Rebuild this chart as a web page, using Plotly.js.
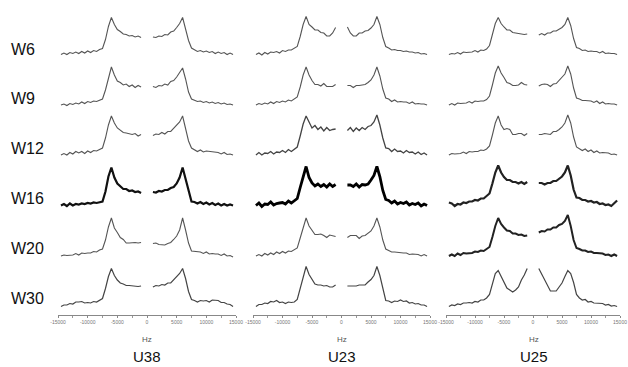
<!DOCTYPE html>
<html>
<head>
<meta charset="utf-8">
<script src="https://cdn.plot.ly/plotly-3.0.1.min.js"></script>
<style>html,body{margin:0;padding:0;background:#fff;}#chart{width:628px;height:367px;}</style>
</head>
<body>
<div id="chart"></div>
<script>
// ---- data ----
const rowLabels = ['W6', 'W9', 'W12', 'W16', 'W20', 'W30'];
const colLabels = ['U38', 'U23', 'U25'];
const axisTitle = 'Hz';
const tickVals = [-15000, -10000, -5000, 0, 5000, 10000, 15000];
const tickText = ['-15000', '-10000', '-5000', '0', '5000', '10000', '15000'];

// frequency grid (Hz); centre point has no signal (gap)
const hz = [-14500,-14000,-13500,-13000,-12500,-12000,-11500,-11000,-10500,-10000,-9500,-9000,-8500,-8000,
            -7500,-7000,-6500,-6000,-5500,-5000,-4500,-4000,-3500,-3000,-2500,-2000,-1500,-1000,
            0,
            1000,1500,2000,2500,3000,3500,4000,4500,5000,5500,6000,6500,7000,7500,
            8000,8500,9000,9500,10000,10500,11000,11500,12000,12500,13000,13500,14000,14500];

// intensities (arbitrary units, above baseline)
const U38_W6  = [0,1.5,0,2,1,2.5,1,3,1.5,3.5,2,4,3,5, 6,15,28,37,30,25,23,20.5,20,18.5,19,17.5,18.5,17, null,
                 17.5,17,18.5,18,20,19.5,22.5,23.5,27,31,37,25,14,6.5, 4.5,3,4,2.5,3.5,2,3,1,2.5,1,2,0,1.5,0];
const U38_W9  = [0,1,-0.5,1.5,0.5,2,1,3,1.5,3.5,2.5,4,3.5,5, 6,15,28,38,30,24,22.5,20,21,18.5,20,17.5,19.5,18, null,
                 18.5,17.5,19.5,19,21,20,23.5,24.5,28,32,37,26,13,6, 5,3.5,4,2.5,3.5,2,3,1.5,2.5,1,2,0.5,1,0];
const U38_W12 = [0,1.5,0,2.5,1,3.5,2,3.5,1.5,4,2.5,4.5,4,5.5, 7,17,30,39,32,27,24.5,22.5,22,21,20.5,21.5,19,20.5, null,
                 19.5,21,20.5,22.5,21,23.5,23.5,26.5,29,33,39,27,14,7, 5.5,3.5,5,3,4,3.5,3,2.5,2.5,1,2.5,0.5,1,0];
const U38_W16 = [0,1.5,-0.5,2,0,1.5,1,2,1.5,2.5,2,3,2.5,3.5, 4,14,29,38,28,22,19.5,16.5,16.5,14.5,15,13.5,14,12.5, null,
                 13.5,13,14.5,14,15.5,15.5,17.5,18.5,22,28,38,27,14,4, 3.5,2,3.5,1.5,3,1,2.5,0.5,2,0,1.5,0,1,0];
const U38_W20 = [0,1,0.5,1,1,2.5,1,3,2.5,3,3,4.5,4,6, 7,16,29,38,28,23.5,18.5,16.5,13,13,13.5,13.5,13,13.5, null,
                 12.5,13,11.5,11.5,11,12.5,13.5,16.5,20,26,38,26,13,5, 4.5,4,4,2.5,4,2,2.5,2,2,0.5,2,0,0.5,-1];
const U38_W30 = [0,1.5,1.5,3,2.5,4.5,4.5,5,3.5,4,3.5,5,4.5,6, 8,18,30,38,31,26.5,23.5,22.5,21,21,20.5,20.5,20,20.5, null,
                 19.5,21,20.5,22,21.5,23.5,23.5,26.5,29,33,38,28,15,7, 6,4.5,6,5.5,6,4.5,6.5,6,6,4,4,2.5,2,0];

const U23_W6  = [0,1.5,-0.5,2,0.5,2.5,2,3,1.5,4,3,4.5,4.5,6.5, 8,18,30,38,30,27.5,24.5,24.5,22,21.5,18.5,18.5,21.5,27, null,
                 27.5,21.5,18.5,18.5,21.5,21.5,23.5,24,26.5,30,38,30,17,8, 6.5,4.5,5,4,4,3,3.5,2.5,2.5,1.5,2,0.5,1,0];
const U23_W9  = [0,1.5,0.5,2,1,3,1.5,3.5,2.5,4,3,5,4,6, 8,18,30,38,30,24.5,20.5,20.5,19,21.5,18.5,18.5,18.5,20.5, null,
                 19.5,19.5,17.5,19.5,19.5,20,20.5,22.5,25,30,38,29,16,7, 6,3.5,5,3,3.5,3,3,1.5,3,1,1.5,1,1,0];
const U23_W12 = [0,2.5,0,2,1.5,3.5,1,3,2.5,4.5,2.5,5.5,3.5,6, 8,19,31,39,33,27,29.5,25.5,28,24,27.5,24.5,25.5,26, null,
                 24.5,27.5,23.5,27,24.5,27.5,25.5,28.5,29.5,33,40,30,17,7, 6.5,3.5,6,3.5,4,2,4.5,2.5,3,1,3,0.5,2,0];
const U23_W16 = [0,2.5,-1,1.5,1,3.5,0.5,2,2.5,3,1.5,4.5,2.5,5, 7,18,30,39,28,22.5,19.5,21.5,19,21,18.5,21.5,19,21, null,
                 20.5,20.5,19,21.5,18.5,21,20.5,21.5,25.5,30,39,29,15,6, 5,2.5,4.5,1.5,3,2,3.5,0.5,2,1,2.5,-0.5,1.5,0];
const U23_W20 = [0,1.5,0,2.5,1,3,1.5,4,2.5,4.5,3,5,4.5,6.5, 8,18,29,38,30,25.5,21.5,21.5,22,20.5,18.5,21,20.5,19.5, null,
                 18.5,20.5,20.5,20.5,17.5,20,20.5,22.5,25,30,38,29,16,7, 5.5,4,4,3.5,3.5,3,3,1.5,2,1.5,1.5,0,1.5,0];
const U23_W30 = [0,2,2,3.5,3,5,4.5,6,4,4.5,3,4.5,4,4.5, 7,18,30,40,32,26.5,22.5,21.5,21.5,20.5,21,19.5,19.5,21.5, null,
                 20.5,20.5,21,20.5,21.5,21.5,21.5,24.5,27,31,40,31,17,6, 5.5,4,5.5,5,6.5,5,5.5,3.5,4,2.5,3,1.5,1.5,0];

const U25_W6  = [0,1,0.5,2,0.5,2.5,2,2.5,2.5,4,2.5,4.5,4,5.5, 9,20,31,37,31,27.5,24.5,24.5,22,21.5,21,20.5,20,20.5, null,
                 19.5,21,19.5,21.5,21.5,23.5,23.5,25.5,27,30,37,29,16,7, 6,4,4.5,3,3.5,3,3,1.5,3,1,1.5,1,1,0];
const U25_W9  = [0,1.5,0,2,1.5,2,2,3.5,2,4,3.5,4,4,5.5, 9,20,32,39,32,27.5,22.5,21.5,19.5,19.5,20,22.5,20.5,20, null,
                 19,20.5,21,20.5,18.5,21,21.5,24.5,27,31,39,31,17,7, 6,4.5,4.5,4,4,2.5,4,1.5,3,1,1.5,1,1,0];
const U25_W12 = [0,1.5,1,1.5,1.5,3,1.5,3.5,3,3.5,3.5,5,4.5,6, 9,20,32,39,30,25.5,26.5,25.5,20.5,20.5,21.5,21.5,19.5,21.5, null,
                 20.5,20.5,21.5,21,20.5,23.5,23.5,25.5,28,32,40,32,18,8, 6.5,4.5,6,3.5,5,2.5,4,2,2.5,2,2,0.5,1,0];
const U25_W16 = [3,2,-0.5,1.5,1,3,2.5,4,4,5.5,5,7,7,9.5, 12,22,33,40,33,28.5,25.5,25.5,23.5,23.5,22,23.5,21.5,23.5, null,
                 22.5,22.5,21,22.5,22.5,24.5,24.5,26.5,29,33,40,30,16,8, 7.5,5.5,5.5,4,4.5,3,3.5,1.5,2,0.5,1,-0.5,2.5,5];
const U25_W20 = [0,1.5,0,2.5,1,3,2.5,3,3,4.5,4,5.5,5,7, 9,19,30,38,32,28.5,25.5,25,22.5,22.5,21,21.5,20,20.5, null,
                 23.5,25,24.5,26.5,26.5,28.5,28.5,31,32,35,41,30,16,8, 7,5.5,5.5,4,4.5,3,3,2.5,2.5,1,1.5,0,1.5,0];
const U25_W30 = [0,1.5,1,2.5,2,3.5,3.5,4,3.5,5,4.5,6.5,6.5,8.5, 12,24,33,36,30,24.5,18.5,16.5,14.5,16.5,19.5,26.5,31.5,38, null,
                 38,32.5,25.5,20.5,15.5,15.5,15.5,19.5,23.5,30,36,33,24,12, 8.5,6.5,7,4.5,5,3.5,3.5,3,3,1.5,2,0.5,1,0];

const spectra = [
  [U38_W6, U38_W9, U38_W12, U38_W16, U38_W20, U38_W30],
  [U23_W6, U23_W9, U23_W12, U23_W16, U23_W20, U23_W30],
  [U25_W6, U25_W9, U25_W12, U25_W16, U25_W20, U25_W30]
];

// ---- layout constants ----
const W = 628, H = 367, PLOT_H = 315;
const rowBase = [54.5, 105, 155, 205.5, 256, 306.5];    // pixel baseline of each row
const colPx = [[58, 236], [253, 430], [446, 620]];       // pixel extent of each x axis
const colCenter = [147, 341.5, 534];
const styles = [
  [['#555',1.1],['#555',1.1],['#555',1.1],['#111',2.2],['#555',1.1],['#444',1.2]],
  [['#555',1.1],['#555',1.1],['#444',1.3],['#000',2.8],['#555',1.1],['#444',1.2]],
  [['#555',1.1],['#555',1.1],['#555',1.1],['#222',2.2],['#222',2.0],['#444',1.2]]
];

const traces = [];
spectra.forEach((col, c) => {
  col.forEach((ys, r) => {
    traces.push({
      type: 'scatter', mode: 'lines',
      x: hz,
      y: ys.map(v => v === null ? null : PLOT_H - rowBase[r] + v),
      xaxis: c === 0 ? 'x' : 'x' + (c + 1), yaxis: 'y',
      line: {color: styles[c][r][0], width: styles[c][r][1], shape: 'linear'},
      connectgaps: false, hoverinfo: 'skip', showlegend: false
    });
  });
});

const layout = {
  width: W, height: H,
  margin: {l: 0, r: 0, t: 0, b: H - PLOT_H, pad: 0},
  paper_bgcolor: '#fff', plot_bgcolor: '#fff',
  showlegend: false,
  yaxis: {range: [0, PLOT_H], visible: false, fixedrange: true},
  annotations: []
};
colPx.forEach((p, c) => {
  const name = c === 0 ? 'xaxis' : 'xaxis' + (c + 1);
  layout[name] = {
    domain: [p[0] / W, p[1] / W],
    range: [-15000, 15000],
    anchor: 'y',
    showline: true, linecolor: '#888', linewidth: 1,
    showgrid: false, zeroline: false,
    tickmode: 'array', tickvals: tickVals, ticktext: tickText,
    ticks: 'outside', ticklen: 2, tickcolor: '#888', tickwidth: 1,
    minor: {dtick: 2500, ticks: 'outside', ticklen: 1.5, tickcolor: '#999', showgrid: false},
    tickfont: {family: 'Liberation Sans, Arial, sans-serif', size: 5, color: '#777'},
    ticklabeloverflow: 'allow',
    automargin: false
  };
  layout.annotations.push({
    xref: 'paper', yref: 'paper', x: colCenter[c] / W, y: 1 - 339.5 / PLOT_H,
    text: axisTitle, showarrow: false, xanchor: 'center', yanchor: 'middle',
    font: {family: 'Liberation Sans, Arial, sans-serif', size: 8, color: '#555'}
  });
  layout.annotations.push({
    xref: 'paper', yref: 'paper', x: colCenter[c] / W, y: 1 - 356.5 / PLOT_H,
    text: colLabels[c], showarrow: false, xanchor: 'center', yanchor: 'middle',
    font: {family: 'Liberation Sans, Arial, sans-serif', size: 15, color: '#111'}
  });
});
rowLabels.forEach((t, r) => {
  const capCenter = 48 + r * 49.9;
  layout.annotations.push({
    xref: 'paper', yref: 'paper', x: 9 / W, y: 1 - (capCenter + 1) / PLOT_H,
    text: t, showarrow: false, xanchor: 'left', yanchor: 'middle',
    font: {family: 'Liberation Sans, Arial, sans-serif', size: 16, color: '#111'}
  });
});

Plotly.newPlot('chart', traces, layout, {staticPlot: true, displayModeBar: false});
</script>
</body>
</html>
